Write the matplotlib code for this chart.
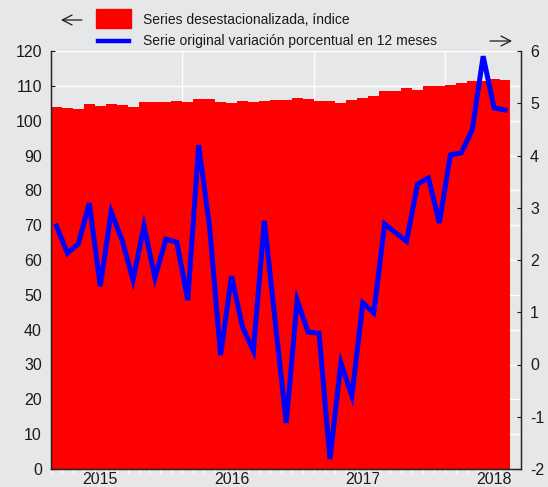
import matplotlib
matplotlib.use("Agg")
import matplotlib.pyplot as plt
from matplotlib.patches import Rectangle, FancyArrowPatch
from matplotlib.lines import Line2D
import numpy as np

plt.rcParams['font.family'] = ['Liberation Sans', 'DejaVu Sans']
plt.rcParams['axes.unicode_minus'] = False

# Data: monthly, Sep 2014 - Feb 2018
months = ['2014-09', '2014-10', '2014-11', '2014-12',
          '2015-01', '2015-02', '2015-03', '2015-04', '2015-05', '2015-06',
          '2015-07', '2015-08', '2015-09', '2015-10', '2015-11', '2015-12',
          '2016-01', '2016-02', '2016-03', '2016-04', '2016-05', '2016-06',
          '2016-07', '2016-08', '2016-09', '2016-10', '2016-11', '2016-12',
          '2017-01', '2017-02', '2017-03', '2017-04', '2017-05', '2017-06',
          '2017-07', '2017-08', '2017-09', '2017-10', '2017-11', '2017-12',
          '2018-01', '2018-02']

# Seasonally adjusted index (left axis)
indice = [103.8, 103.6, 103.4, 104.7, 104.3, 104.7, 104.5, 103.8, 105.3, 105.5,
          105.3, 105.7, 105.5, 106.3, 106.1, 105.5, 105.1, 105.6, 105.5, 105.7,
          105.9, 105.8, 106.4, 106.2, 105.7, 105.7, 105.0, 105.8, 106.4, 107.1,
          108.4, 108.6, 109.3, 108.8, 109.9, 110.0, 110.2, 110.7, 111.3, 111.5,
          111.9, 111.7]

# Original series, 12-month % change (right axis)
variacion = [2.65, 2.13, 2.31, 3.09, 1.50, 2.92, 2.38, 1.62, 2.65, 1.66,
             2.40, 2.34, 1.23, 4.20, 2.63, 0.18, 1.69, 0.72, 0.26, 2.75,
             0.81, -1.12, 1.23, 0.62, 0.60, -1.81, 0.03, -0.60, 1.18, 0.99,
             2.69, 2.52, 2.36, 3.45, 3.57, 2.71, 4.01, 4.05, 4.49, 5.90,
             4.91, 4.87]

year_labels = ['2015', '2016', '2017', '2018']

bg = '#e6e7e9'
txt = '#1a1a1a'

fig = plt.figure(figsize=(5.48, 4.87), dpi=100, facecolor=bg)
ax = fig.add_axes([51/548, 1-469/487, 470/548, 418/487])
ax.set_facecolor(bg)

x = np.arange(len(months))
ax.bar(x, indice, width=1.0, color='#ff0000', linewidth=0, zorder=2)

ax.set_ylim(0, 120)
ax.set_yticks(np.arange(0, 121, 10))
ax.set_xlim(-0.5, 42.46)
ax.yaxis.grid(True, color='white', linewidth=1.0, zorder=1)
ax.set_axisbelow(True)

# year boundaries (Sep) vertical grid lines
for xv in [11.5, 23.5, 35.5]:
    ax.axvline(xv, color='white', linewidth=1.0, zorder=1)

jan_idx = [i for i, m in enumerate(months) if m.endswith('-01')]
ax.set_xticks(jan_idx)
ax.set_xticklabels(year_labels)
ax.set_xticks(np.arange(-0.5, len(months), 1.0), minor=True)
ax.tick_params(axis='x', which='major', length=0, pad=2.5, labelsize=11.5, colors=txt)
ax.tick_params(axis='x', which='minor', length=3, direction='out', color='white', width=1)
ax.tick_params(axis='y', direction='in', length=3, pad=6.5, labelsize=11.5, colors=txt)

for s in ['left', 'bottom', 'right']:
    ax.spines[s].set_color('#222222')
    ax.spines[s].set_linewidth(0.9)
ax.spines['top'].set_visible(False)

ax2 = ax.twinx()
ax2.plot(x, variacion, color='#0000ff', linewidth=3.6, zorder=3,
         solid_joinstyle='miter')
ax2.set_ylim(-2, 6)
ax2.set_yticks(np.arange(-2, 7, 1))
ax2.tick_params(axis='y', direction='in', length=3, pad=6.5, labelsize=11.5, colors=txt)
for s in ['left', 'bottom', 'right']:
    ax2.spines[s].set_color('#222222')
    ax2.spines[s].set_linewidth(0.9)
ax2.spines['top'].set_visible(False)

# legend drawn by hand
fig.patches.append(Rectangle((96/548, 1-28/487), 35/548, 19/487,
                             transform=fig.transFigure, color='#ff0000'))
fig.lines.append(Line2D([98/548, 129/548], [1-41/487, 1-41/487],
                        transform=fig.transFigure, color='#0000ff', linewidth=3.2))
fig.text(143/548, 1-20/487, 'Series desestacionalizada, índice', fontsize=10,
         color=txt, va='center', ha='left')
fig.text(143/548, 1-41/487, 'Serie original variación porcentual en 12 meses',
         fontsize=10, color=txt, va='center', ha='left')
for (x0, x1, yy) in [(82, 61, 20), (490, 512, 41)]:
    fig.patches.append(FancyArrowPatch((x0/548, 1-yy/487), (x1/548, 1-yy/487),
                                       transform=fig.transFigure,
                                       arrowstyle='->,head_length=7,head_width=3.6',
                                       mutation_scale=1, color=txt, lw=0.9,
                                       shrinkA=0, shrinkB=0))

fig.savefig('out.png', dpi=100, facecolor=bg)
